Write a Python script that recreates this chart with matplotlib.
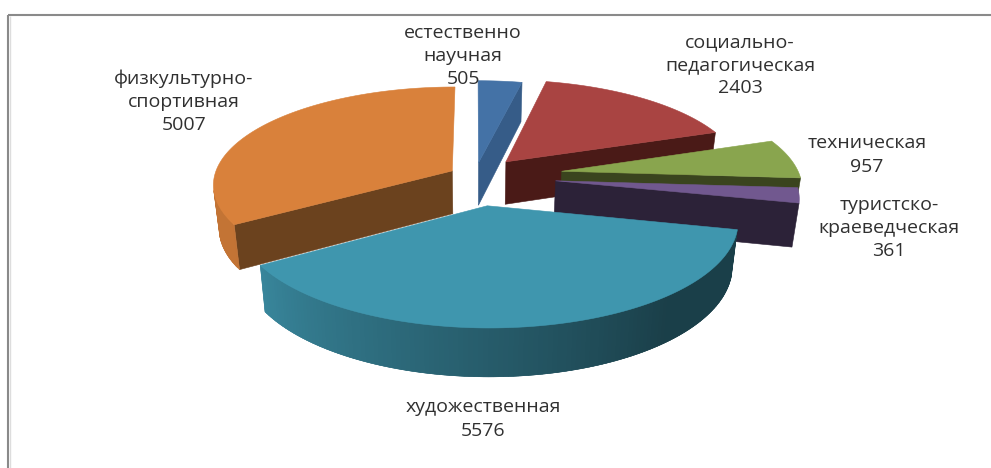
import numpy as np
import matplotlib.pyplot as plt
from matplotlib.colors import to_rgb
from matplotlib.patches import Polygon

labels = ['естественно\nнаучная', 'социально-\nпедагогическая', 'техническая',
          'туристско-\nкраеведческая', 'художественная', 'физкультурно-\nспортивная']
values = [505, 2403, 957, 361, 5576, 5007]

# how far each slice is pulled out of the pie
explode = [0.14, 0.20, 0.37, 0.34, 0.30, 0.11]

top_colors = ['#4472a6', '#a94442', '#89a54e', '#71588f', '#3f96ae', '#d9813b']
cut_colors = ['#365c88', '#4a1a17', '#3a441e', '#2c2238', '#1a3c47', '#6b421e']
label_pos = [(463, 56), (740, 65), (867, 155), (889, 228), (483, 419), (184, 102)]

# projection of the tilted pie, in pixels
CX, CY = 475, 176
RX, RY = 238, 96.6
PERSP = 0.136
DEPTH = 43
BOTTOM_SCALE = 0.978


def project(x, y, bottom=False):
    d = 1 + PERSP * y
    sx = RX * x / d
    sy = -RY * y / d
    if bottom:
        sx = sx * BOTTOM_SCALE
        sy = sy * BOTTOM_SCALE + DEPTH / d
    return np.column_stack([CX + sx, CY + sy])


def outline(a1, a2, off):
    t = np.radians(np.linspace(a1, a2, max(int(a2 - a1), 2) + 1))
    mid = np.radians((a1 + a2) / 2)
    return (off * np.sin(mid) + np.sin(t), off * np.cos(mid) + np.cos(t),
            off * np.sin(mid), off * np.cos(mid))


def area(p):
    x, y = p[:, 0], p[:, 1]
    return 0.5 * np.sum(x * np.roll(y, -1) - np.roll(x, -1) * y)


def face(ax, p, color):
    ax.add_patch(Polygon(p, closed=True, facecolor=color, edgecolor=color, linewidth=0.4))


fig = plt.figure(figsize=(9.91, 4.68), dpi=100)
ax = fig.add_axes([0, 0, 1, 1])
ax.set_xlim(0, 991)
ax.set_ylim(468, 0)
ax.axis('off')

# chart frame, only top and left are in the crop
ax.plot([8, 991], [15, 15], color='#8a8a8a', lw=1.5, solid_capstyle='butt')
ax.plot([8, 8], [15, 468], color='#8a8a8a', lw=1.5, solid_capstyle='butt')
ax.plot([10, 10], [16, 468], color='#dddddd', lw=1, solid_capstyle='butt')

angles = np.cumsum([0] + values) / sum(values) * 360

for i in range(len(values)):
    a1, a2 = angles[i], angles[i + 1]
    x, y, tx, ty = outline(a1, a2, explode[i])
    top_arc = project(x, y)
    bot_arc = project(x, y, bottom=True)
    tip_t = project(np.array([tx]), np.array([ty]))
    tip_b = project(np.array([tx]), np.array([ty]), bottom=True)

    # radial cuts, only the side that faces the viewer (skip near edge-on ones)
    for j in (0, -1):
        p = np.vstack([tip_t, top_arc[[j]], bot_arc[[j]], tip_b])
        s = area(p) if j != 0 else -area(p)
        if s > 400:
            face(ax, p, cut_colors[i])

    # rim, darker towards the right
    base = np.array(to_rgb(top_colors[i]))
    n = len(top_arc)
    for k in range(n - 1):
        e = min(k + 2, n - 1)  # overlap the next piece so no seams show
        p = np.vstack([top_arc[k], top_arc[e], bot_arc[e], bot_arc[k]])
        if area(p) > 0:
            continue
        ang = a1 + (a2 - a1) * (k + 0.5) / (n - 1)
        shade = np.interp(ang, [140, 240], [0.42, 0.9])
        face(ax, p, base * shade)

    face(ax, np.vstack([tip_t, top_arc]), top_colors[i])

for i in range(len(values)):
    ax.text(label_pos[i][0], label_pos[i][1], f'{labels[i]}\n{values[i]}', ha='center', va='center',
            fontsize=14, family='Open Sans', color='#303030', linespacing=1.36)

plt.savefig('out.png', dpi=100)
